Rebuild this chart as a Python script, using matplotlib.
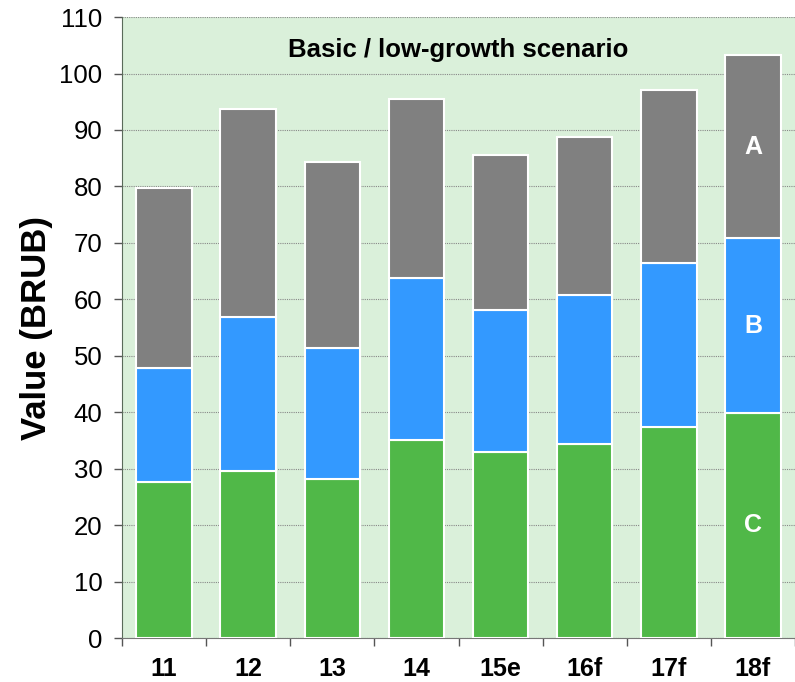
import matplotlib
matplotlib.use('Agg')
import matplotlib.pyplot as plt
import numpy as np

plt.rcParams['font.family'] = ['Liberation Sans', 'DejaVu Sans']

categories = ['11', '12', '13', '14', '15e', '16f', '17f', '18f']
c_vals = [27.6, 29.5, 28.1, 35.0, 32.9, 34.4, 37.4, 39.9]
b_vals = [20.3, 27.3, 23.2, 28.7, 25.2, 26.3, 29.1, 30.9]
a_vals = [31.8, 37.0, 33.0, 31.7, 27.4, 28.1, 30.5, 32.5]
segment_labels = ['C', 'B', 'A']

fig = plt.figure(figsize=(7.95, 6.82), dpi=100)
ax = fig.add_axes([0.1535, 0.0645, 0.8465, 0.9105])
ax.set_facecolor('#daf0da')

x = np.arange(len(categories))
c = np.array(c_vals)
b = np.array(b_vals)
a = np.array(a_vals)
w = 0.66
ax.bar(x, c, w, color='#50b848', edgecolor='white', linewidth=1.5, zorder=3)
ax.bar(x, b, w, bottom=c, color='#3399ff', edgecolor='white', linewidth=1.5, zorder=3)
ax.bar(x, a, w, bottom=c + b, color='#808080', edgecolor='white', linewidth=1.5, zorder=3)

# segment labels on the last bar
last = len(categories) - 1
for val, base, lab in [(c[last], 0, 'C'), (b[last], c[last], 'B'), (a[last], c[last] + b[last], 'A')]:
    ax.text(x[last], base + val / 2, lab, color='white', fontsize=18, fontweight='bold',
            ha='center', va='center', zorder=4)

ax.set_xlim(-0.5, len(categories) - 0.5)
ax.set_ylim(0, 110)
ax.set_yticks(np.arange(0, 111, 10))
ax.tick_params(axis='y', labelsize=18.5, length=6, width=1, color='#555555', direction='out', pad=8)
ax.yaxis.grid(True, color='#888888', linestyle=(0, (1, 1)), linewidth=0.8, zorder=1)

ax.set_xticks(np.arange(-0.5, len(categories) - 0.4, 1))
ax.set_xticklabels([])
ax.set_xticks(x, minor=True)
ax.set_xticklabels(categories, minor=True, fontsize=18, fontweight='bold')
ax.tick_params(axis='x', which='major', length=6, width=1, color='#555555', direction='out')
ax.tick_params(axis='x', which='minor', length=0, pad=14)

for side in ['top', 'right']:
    ax.spines[side].set_visible(False)
ax.spines['left'].set_color('#5a6b5a')
ax.spines['bottom'].set_color('#777777')

ax.set_ylabel('Value (BRUB)', fontsize=25, fontweight='bold', labelpad=5)
ax.text(0.5, 0.947, 'Basic / low-growth scenario', transform=ax.transAxes,
        ha='center', va='center', fontsize=18.5, fontweight='bold', zorder=4)

plt.savefig('out.png', dpi=100)
